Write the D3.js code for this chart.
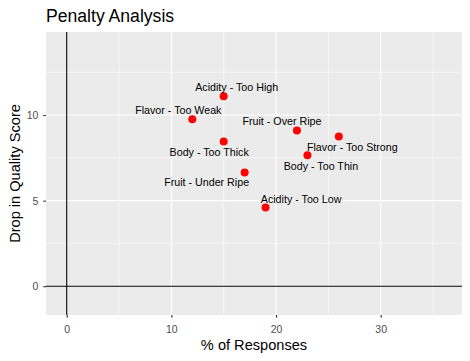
<!DOCTYPE html>
<html>
<head>
<meta charset="utf-8">
<script src="https://cdn.jsdelivr.net/npm/d3@7"></script>
<style>
  body { margin: 0; background: #fff; }
  text { font-family: "Liberation Sans", Arial, sans-serif; }
</style>
</head>
<body>
<div id="chart"></div>
<script>
var attributes = ["Acidity - Too High", "Flavor - Too Weak", "Fruit - Over Ripe", "Flavor - Too Strong",
                  "Body - Too Thick", "Body - Too Thin", "Fruit - Under Ripe", "Acidity - Too Low"];
var pctResponses = [15, 12, 22, 26, 15, 23, 17, 19];
var qualityDrop = [11.1, 9.75, 9.1, 8.75, 8.45, 7.65, 6.65, 4.6];
var xTicks = [0, 10, 20, 30];
var yTicks = [0, 5, 10];

// label nudges (px) relative to each point
var labelDx = [13, -14, -15, 13.5, -14.5, 13.5, -38, 35.5];
var labelDy = [-8.5, -9, -9, 10.5, 11, 10.5, 10.3, -8.5];

var W = 470, H = 361;
var margin = {top: 32, right: 8, bottom: 46, left: 46},
    width = W - margin.left - margin.right,
    height = H - margin.top - margin.bottom;

var svg = d3.select("#chart")
  .append("svg")
    .attr("width", W)
    .attr("height", H);

var g = svg.append("g")
    .attr("transform", "translate(" + margin.left + "," + margin.top + ")");

var x = d3.scaleLinear()
  .domain([-1.98, 37.77])
  .range([0, width]);

var y = d3.scaleLinear()
  .domain([-1.68, 14.85])
  .range([height, 0]);

// panel
g.append("rect")
  .attr("width", width)
  .attr("height", height)
  .attr("fill", "#EBEBEB");

// minor grid
var xMinor = [5, 15, 25, 35], yMinor = [2.5, 7.5, 12.5];
g.selectAll(".xminor").data(xMinor).enter().append("line")
  .attr("x1", d => x(d)).attr("x2", d => x(d))
  .attr("y1", 0).attr("y2", height)
  .attr("stroke", "#fff").attr("stroke-width", 0.55);
g.selectAll(".yminor").data(yMinor).enter().append("line")
  .attr("x1", 0).attr("x2", width)
  .attr("y1", d => y(d)).attr("y2", d => y(d))
  .attr("stroke", "#fff").attr("stroke-width", 0.55);

// major grid
g.selectAll(".xmajor").data(xTicks).enter().append("line")
  .attr("x1", d => x(d)).attr("x2", d => x(d))
  .attr("y1", 0).attr("y2", height)
  .attr("stroke", "#fff").attr("stroke-width", 1.1);
g.selectAll(".ymajor").data(yTicks).enter().append("line")
  .attr("x1", 0).attr("x2", width)
  .attr("y1", d => y(d)).attr("y2", d => y(d))
  .attr("stroke", "#fff").attr("stroke-width", 1.1);

// reference lines at zero
g.append("line")
  .attr("x1", x(0)).attr("x2", x(0))
  .attr("y1", 0).attr("y2", height)
  .attr("stroke", "#000").attr("stroke-width", 1.1);
g.append("line")
  .attr("x1", 0).attr("x2", width)
  .attr("y1", y(0)).attr("y2", y(0))
  .attr("stroke", "#000").attr("stroke-width", 1.1);

// points
g.selectAll(".pt").data(attributes).enter().append("circle")
  .attr("cx", (d, i) => x(pctResponses[i]))
  .attr("cy", (d, i) => y(qualityDrop[i]))
  .attr("r", 4)
  .attr("fill", "#FF0000");

// labels
g.selectAll(".lbl").data(attributes).enter().append("text")
  .attr("x", (d, i) => x(pctResponses[i]) + labelDx[i])
  .attr("y", (d, i) => y(qualityDrop[i]) + labelDy[i])
  .attr("dy", "0.35em")
  .attr("text-anchor", "middle")
  .attr("font-size", "10.7px")
  .attr("fill", "#000")
  .text(d => d);

// axes
var xAxis = g.append("g")
  .attr("transform", "translate(0," + height + ")")
  .call(d3.axisBottom(x).tickValues(xTicks).tickSize(2.7).tickPadding(8).tickFormat(d => d));
var yAxis = g.append("g")
  .call(d3.axisLeft(y).tickValues(yTicks).tickSize(2.7).tickPadding(5).tickFormat(d => d));

[xAxis, yAxis].forEach(function(a) {
  a.select(".domain").remove();
  a.selectAll(".tick line").attr("stroke", "#333333").attr("stroke-width", 1.1);
  a.selectAll(".tick text")
    .attr("fill", "#4D4D4D")
    .attr("font-size", "10.5px")
    .style("font-family", "'Liberation Sans', Arial, sans-serif");
});

// title
svg.append("text")
  .attr("x", 46)
  .attr("y", 22)
  .attr("font-size", "17.6px")
  .attr("fill", "#000")
  .text("Penalty Analysis");

// axis titles
svg.append("text")
  .attr("x", margin.left + width / 2)
  .attr("y", 350)
  .attr("text-anchor", "middle")
  .attr("font-size", "14.6px")
  .attr("fill", "#000")
  .text("% of Responses");

svg.append("text")
  .attr("transform", "translate(19.5," + (margin.top + height / 2) + ") rotate(-90)")
  .attr("text-anchor", "middle")
  .attr("font-size", "14.6px")
  .attr("fill", "#000")
  .text("Drop in Quality Score");
</script>
</body>
</html>
